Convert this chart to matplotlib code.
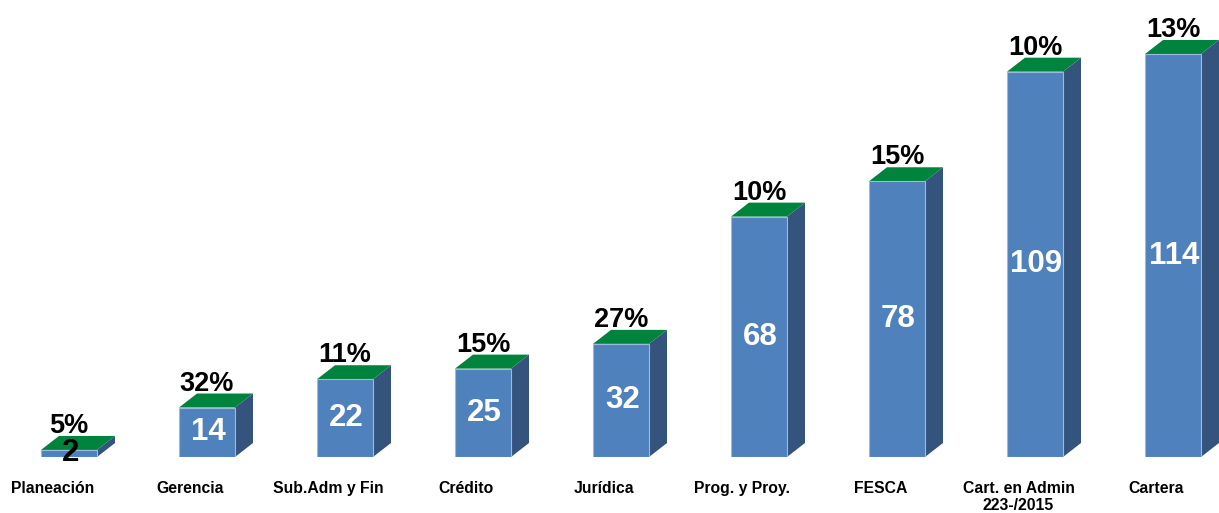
#!/usr/bin/env python3
# -*- coding: utf-8 -*-

import matplotlib
matplotlib.use("Agg")
import matplotlib.pyplot as plt
from matplotlib.patches import Polygon

categorias = ["Planeación", "Gerencia", "Sub.Adm y Fin", "Crédito", "Jurídica",
              "Prog. y Proy.", "FESCA", "Cart. en Admin\n223-/2015", "Cartera"]
valores = [2, 14, 22, 25, 32, 68, 78, 109, 114]
porcentajes = ["5%", "32%", "11%", "15%", "27%", "10%", "15%", "10%", "13%"]

FRENTE = "#4F81BD"
LADO = "#34547E"
TECHO = "#00843D"


def main():
    plt.rcParams["font.family"] = ["Liberation Sans", "DejaVu Sans"]
    fig = plt.figure(figsize=(12.19, 5.13), dpi=100)
    ax = fig.add_axes([0, 56 / 513, 1, 457 / 513])

    px_x = 138.0          # pixels per category
    px_y = 403.0 / 114    # pixels per unit
    ax.set_xlim(-69 / px_x, (1219 - 69) / px_x)
    ax.set_ylim(0, 457 / px_y)
    ax.axis("off")

    w = 56 / px_x
    dx = 18 / px_x
    dy = 14 / px_y

    x = list(range(len(valores)))
    ax.bar(x, valores, width=w, color=FRENTE, edgecolor="#9DB9DF",
           linewidth=0.8, zorder=3)

    for i, v in zip(x, valores):
        r = i + w / 2
        l = i - w / 2
        ax.add_patch(Polygon([(r, 0), (r + dx, dy), (r + dx, v + dy), (r, v)],
                             closed=True, facecolor=LADO, edgecolor="none", zorder=2))
        ax.add_patch(Polygon([(l, v), (r, v), (r + dx, v + dy), (l + dx, v + dy)],
                             closed=True, facecolor=TECHO, edgecolor="none", zorder=2))

        color = "white" if v >= 5 else "black"
        ax.text(i + 0.01, v / 2, str(v), ha="center", va="center", fontsize=22.5,
                fontweight="bold", color=color, zorder=5)

    for i, v, p in zip(x, valores, porcentajes):
        ax.text(i, v + 17 / px_y, p, ha="center", va="baseline", fontsize=19.5,
                fontweight="bold", color="black", zorder=6, clip_on=False)

    for i, c in zip(x, categorias):
        ax.text(i - 0.12, -24 / px_y, c, ha="center", va="top", fontsize=11.3,
                fontweight="bold", color="black", clip_on=False,
                linespacing=1.15)

    fig.savefig("out.png", dpi=100)


if __name__ == '__main__':
    main()
